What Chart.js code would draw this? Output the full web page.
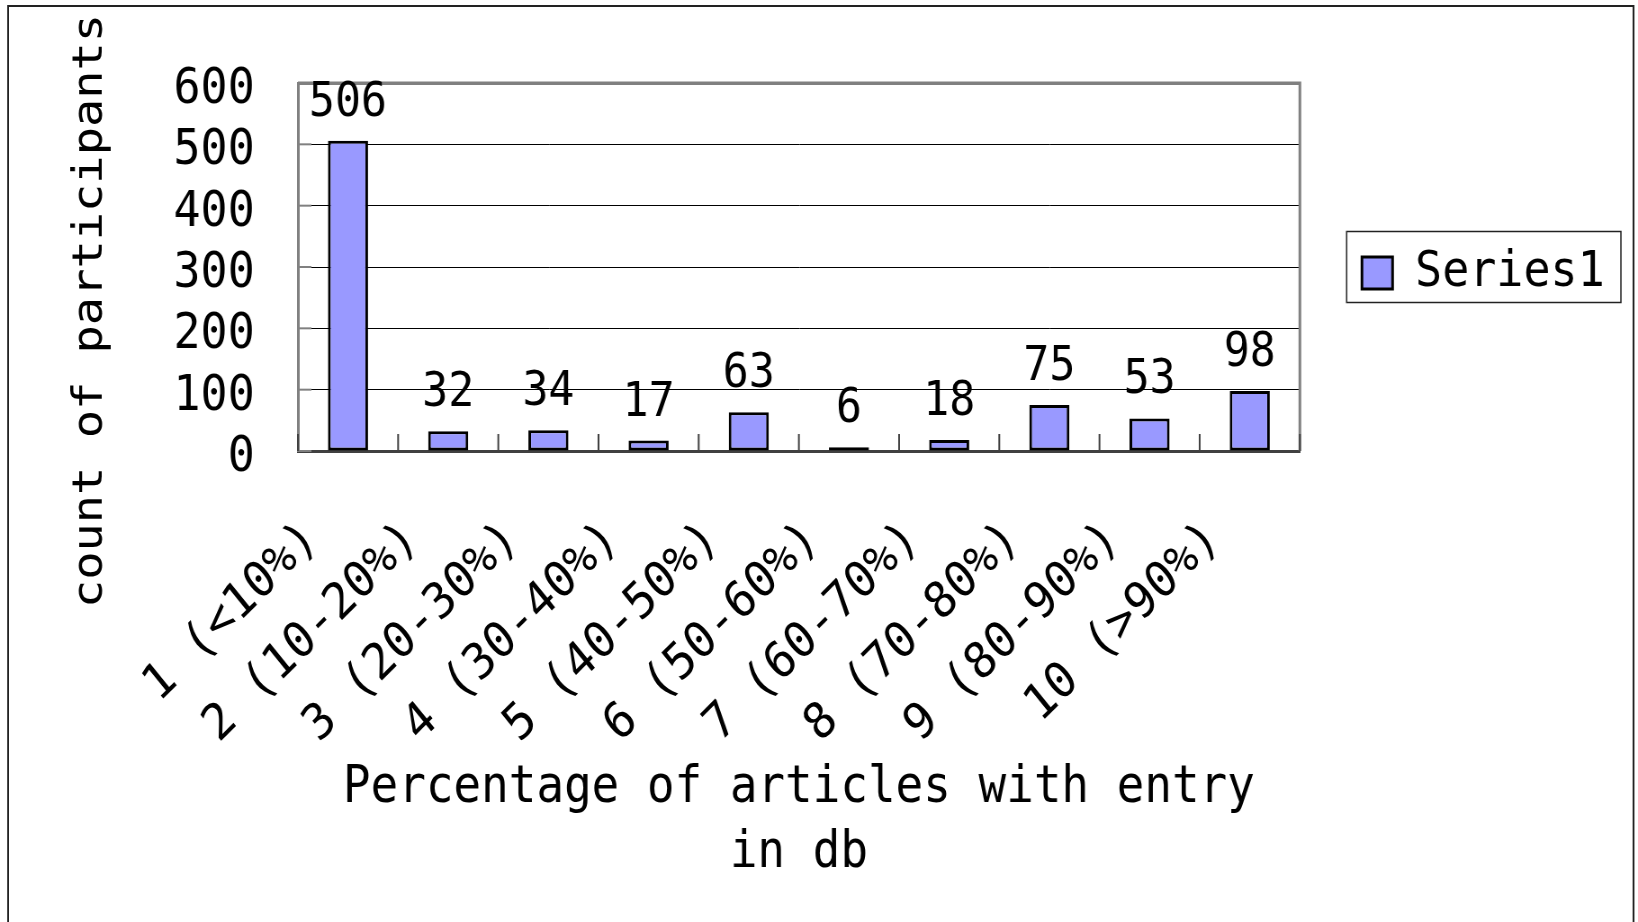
<!DOCTYPE html>
<html>
<head>
<meta charset="utf-8">
<script src="https://cdn.jsdelivr.net/npm/chart.js@4.4.1/dist/chart.umd.min.js"></script>
<style>
html,body{margin:0;padding:0;background:#fff;overflow:hidden;}
canvas{display:block;}
</style>
</head>
<body>
<!-- drawn 1820 wide and squeezed to 1638 so the glyphs come out narrow like the original -->
<canvas id="chart" width="1820" height="922" style="width:1638px;height:922px"></canvas>
<script>
const categories = ["1 (<10%)","2 (10-20%)","3 (20-30%)","4 (30-40%)","5 (40-50%)",
                    "6 (50-60%)","7 (60-70%)","8 (70-80%)","9 (80-90%)","10 (>90%)"];
const counts = [506,32,34,17,63,6,18,75,53,98];
const yTicks = [0,100,200,300,400,500,600];
const seriesName = "Series1";
const xTitle = ["Percentage of articles with entry","in db"];
const yTitle = "count of participants";

const FONT = "'DejaVu Sans Mono', monospace";

// white page + outer frame
const framePlugin = {
  id:"frame",
  beforeDraw(chart){
    const c = chart.ctx;
    c.save();
    c.fillStyle = "#fff";
    c.fillRect(0,0,chart.width,chart.height);
    c.strokeStyle = "#222";
    c.lineWidth = 2;
    c.strokeRect(9,6,1806,1000);
    c.restore();
  }
};

// plot border (top/right) and the short inside tick marks
const plotPlugin = {
  id:"plotFrame",
  beforeDatasetsDraw(chart){
    const {ctx:c, chartArea:a} = chart;
    const xs = chart.scales.x, ys = chart.scales.y;
    c.save();
    c.strokeStyle = "#808080";
    c.lineWidth = 3;
    c.beginPath();
    c.moveTo(a.left,a.top); c.lineTo(a.right,a.top); c.lineTo(a.right,a.bottom);
    c.stroke();
    // y ticks pointing into the plot
    c.lineWidth = 2;
    yTicks.forEach(v=>{
      const y = ys.getPixelForValue(v);
      c.beginPath(); c.moveTo(a.left,y); c.lineTo(a.left+15,y); c.stroke();
    });
    // category boundary ticks on the x axis
    c.strokeStyle = "#404040";
    for(let i=0;i<=categories.length;i++){
      let x;
      if(i===0) x = a.left;
      else if(i===categories.length) x = a.right;
      else x = (xs.getPixelForValue(i-1)+xs.getPixelForValue(i))/2;
      c.beginPath(); c.moveTo(x,a.bottom); c.lineTo(x,a.bottom-17); c.stroke();
    }
    c.restore();
  }
};

// value labels above the bars
const valuePlugin = {
  id:"values",
  afterDatasetsDraw(chart){
    const c = chart.ctx;
    const meta = chart.getDatasetMeta(0);
    c.save();
    c.font = "48px "+FONT;
    c.fillStyle = "#000";
    c.textAlign = "center";
    c.textBaseline = "alphabetic";
    meta.data.forEach((el,i)=>{
      c.fillText(String(counts[i]), el.x, el.y-25);
    });
    c.restore();
  }
};

// legend frame and y axis title
const extrasPlugin = {
  id:"extras",
  afterDraw(chart){
    const c = chart.ctx;
    const lg = chart.legend;
    c.save();
    c.strokeStyle = "#222";
    c.lineWidth = 1.5;
    const cy = (lg.top+lg.bottom)/2;
    c.strokeRect(lg.left, cy-35.5, lg.width+8, 71);

    c.translate(101,311);
    c.rotate(-Math.PI/2);
    c.font = "47px "+FONT;
    c.fillStyle = "#000";
    c.textAlign = "center";
    c.textBaseline = "middle";
    c.fillText(yTitle,0,0);
    c.restore();
  }
};

new Chart(document.getElementById("chart"),{
  type:"bar",
  data:{
    labels:categories,
    datasets:[{
      label:seriesName,
      data:counts,
      backgroundColor:"#9999ff",
      borderColor:"#000",
      borderWidth:3,
      borderSkipped:false,
      barPercentage:0.4,
      categoryPercentage:1.0
    }]
  },
  plugins:[framePlugin,plotPlugin,valuePlugin,extrasPlugin],
  options:{
    responsive:false,
    maintainAspectRatio:false,
    devicePixelRatio:1,
    animation:false,
    layout:{padding:{top:83,right:27,bottom:0,left:0}},
    plugins:{
      tooltip:{enabled:false},
      title:{display:false},
      legend:{
        position:"right",
        align:"center",
        fullSize:false,
        title:{display:true,text:"",padding:0,font:{size:10}},
        labels:{
          font:{family:FONT,size:50},
          color:"#000",
          boxWidth:34,
          boxHeight:32,
          padding:17
        }
      }
    },
    scales:{
      x:{
        offset:true,
        grid:{display:false,drawTicks:false},
        border:{color:"#404040",width:3},
        ticks:{
          autoSkip:false,
          minRotation:42,
          maxRotation:42,
          labelOffset:-40,
          padding:59,
          color:"#000",
          font:{family:FONT,size:50}
        },
        title:{
          display:true,
          text:xTitle,
          color:"#000",
          font:{family:FONT,size:51,lineHeight:1.27},
          padding:{top:0,bottom:36}
        },
        afterFit(s){ s.height = 471; }
      },
      y:{
        min:0,
        max:600,
        afterBuildTicks(s){ s.ticks = yTicks.map(v=>({value:v})); },
        grid:{
          drawTicks:false,
          color:ctx=>ctx.tick.value===600?"#808080":(ctx.tick.value===0?"rgba(0,0,0,0)":"#000"),
          lineWidth:ctx=>ctx.tick.value===600?3:1
        },
        border:{color:"#808080",width:3},
        ticks:{
          autoSkip:false,
          padding:48,
          labelOffset:7,
          color:"#000",
          font:{family:FONT,size:50}
        },
        afterFit(s){ s.width = 331; }
      },
      gap:{
        type:"linear",
        position:"right",
        display:true,
        grid:{display:false,drawTicks:false},
        border:{display:false},
        ticks:{display:false},
        afterFit(s){ s.width = 52; }
      }
    }
  }
});
</script>
</body>
</html>
